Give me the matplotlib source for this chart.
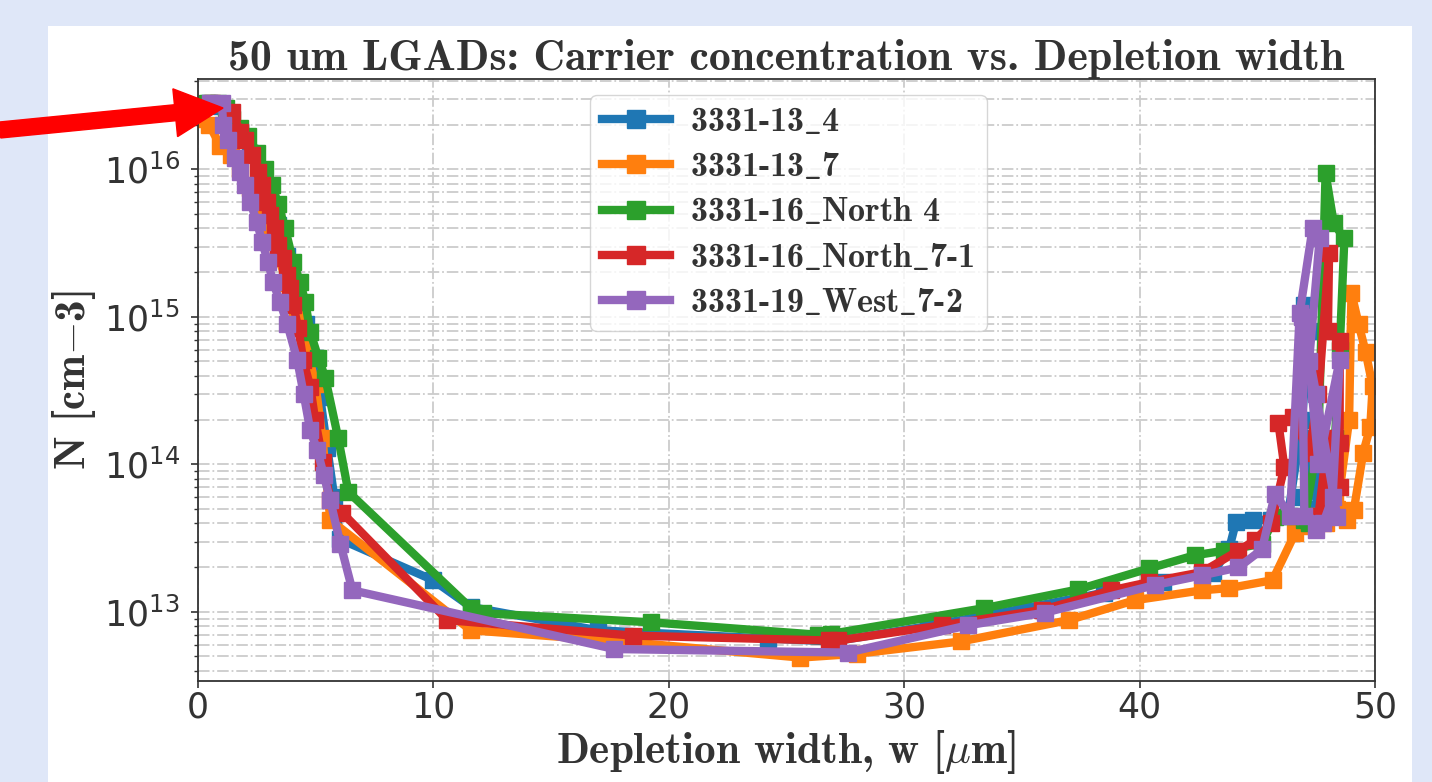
import os
import matplotlib
matplotlib.use("Agg")
import matplotlib.pyplot as plt
from matplotlib import font_manager
from matplotlib.patches import Rectangle, FancyArrow

# ---------------- data ----------------
labels = ["3331-13_4", "3331-13_7", "3331-16_North 4", "3331-16_North_7-1", "3331-19_West_7-2"]

blue_x = [0.5, 1.0, 1.4, 1.8, 2.2, 2.6, 3.0, 3.4, 3.8, 4.2, 4.6, 5.0, 5.2, 5.5, 5.8, 6.06,
          10.0, 11.6, 17.0, 24.2, 27.0, 31.0, 35.0, 38.5, 41.0, 43.1, 43.8, 44.1, 44.8, 45.6,
          46.3, 46.8, 47.0, 47.2, 46.9, 47.3, 47.6, 47.1, 46.9]
blue_n = [2.8e16, 2.7e16, 2.3e16, 1.8e16, 1.3e16, 9.5e15, 6.5e15, 4.2e15, 2.6e15, 1.6e15, 9e14,
          5.3e14, 2.85e14, 1.3e14, 6e13, 3.1e13, 1.64e13, 1.08e13, 7.5e12, 6.6e12, 6.3e12, 8.0e12,
          1.05e13, 1.35e13, 1.6e13, 1.83e13, 2.65e13, 4.1e13, 4.2e13, 4.2e13, 4.5e13, 1.5e14,
          1.2e15, 8e14, 2e14, 8e13, 5e13, 4.5e13, 6e13]

orange_x = [0.15, 0.5, 0.95, 1.4, 1.8, 2.2, 2.6, 3.0, 3.4, 3.8, 4.2, 4.6, 5.0, 5.3, 5.63,
            11.6, 17.5, 25.6, 28.0, 32.4, 37.0, 39.8, 42.65, 43.8, 45.65, 46.6, 47.2, 47.8,
            48.4, 48.9, 49.0, 49.3, 49.6, 49.9, 49.8, 49.5, 49.1, 48.8, 48.3, 47.9, 47.5]
orange_n = [2.2e16, 2.0e16, 1.45e16, 1.25e16, 1.0e16, 7.5e15, 5.5e15, 3.8e15, 2.6e15, 1.7e15,
            1.05e15, 6.5e14, 3.5e14, 1.5e14, 4.2e13, 7.5e12, 6.4e12, 4.9e12, 5.2e12, 6.3e12,
            8.8e12, 1.2e13, 1.4e13, 1.45e13, 1.64e13, 3.4e13, 3.8e13, 4.2e13, 5e13, 2e14,
            1.45e15, 9e14, 5.8e14, 3.4e14, 1.8e14, 1.2e14, 4.9e13, 4.2e13, 5.5e13, 4e13, 4.5e13]

green_x = [0.4, 0.86, 1.2, 1.46, 1.8, 2.14, 2.52, 2.86, 3.16, 3.42, 3.71, 4.06, 4.35, 4.57,
           4.78, 5.12, 5.42, 5.97, 6.4, 11.6, 12.1, 19.25, 26.35, 26.9, 33.4, 37.4, 40.4,
           42.35, 43.6, 45.2, 45.75, 46.4, 47.0, 47.6, 47.9, 48.25, 48.7, 48.5, 48.3, 48.0,
           47.8, 47.2]
green_n = [2.8e16, 2.8e16, 2.6e16, 2.2e16, 1.9e16, 1.68e16, 1.3e16, 1.0e16, 7.8e15, 5.8e15,
           4.0e15, 2.35e15, 1.72e15, 1.26e15, 7.9e14, 5.3e14, 3.85e14, 1.5e14, 6.5e13,
           1.06e13, 9.8e12, 8.5e12, 7.0e12, 7.1e12, 1.06e13, 1.42e13, 1.97e13, 2.42e13,
           2.6e13, 2.9e13, 4.4e13, 4.5e13, 4.2e13, 1.5e14, 9.4e15, 4.3e15, 3.4e15, 6e14,
           1.5e14, 5e13, 4.5e13, 4e13]

red_x = [0.6, 1.47, 1.8, 2.0, 2.31, 2.57, 2.74, 2.95, 3.08, 3.29, 3.42, 3.63, 3.8, 3.93,
         4.06, 4.27, 4.48, 4.78, 4.99, 5.33, 5.63, 6.14, 10.6, 18.5, 26.8, 27.2, 31.6, 35.85,
         38.8, 40.4, 42.65, 44.2, 44.9, 45.6, 46.15, 45.9, 46.5, 47.2, 47.6, 48.05, 48.0,
         48.5, 48.5, 48.5, 47.6, 48.0, 47.8]
red_n = [2.8e16, 2.45e16, 1.8e16, 1.57e16, 1.25e16, 9.6e15, 7.8e15, 6.0e15, 4.9e15, 4.0e15,
         3.06e15, 2.5e15, 1.92e15, 1.57e15, 1.2e15, 8.4e14, 5.1e14, 3.35e14, 2.0e14, 1.03e14,
         5.7e13, 4.7e13, 8.8e12, 6.9e12, 6.4e12, 6.4e12, 8.1e12, 1.03e13, 1.4e13, 1.59e13,
         1.86e13, 2.6e13, 3.06e13, 4e13, 9.6e13, 1.9e14, 2.1e14, 1.2e14, 3e14, 2.7e15, 8e14,
         6.9e14, 1.4e14, 7e13, 4.5e13, 1.5e14, 4.2e13]

purple_x = [0.52, 1.03, 1.08, 1.29, 1.59, 1.8, 2.01, 2.23, 2.52, 2.74, 2.99, 3.2, 3.5, 3.8,
            4.23, 4.5, 4.78, 5.08, 5.35, 5.63, 6.06, 6.57, 17.7, 27.6, 32.7, 36.0, 40.65,
            42.65, 44.2, 45.2, 45.75, 46.4, 46.8, 47.35, 47.65, 47.2, 47.6, 48.5, 48.2, 47.8,
            47.0, 46.9, 47.5, 48.4, 47.5]
purple_n = [2.8e16, 2.8e16, 2.0e16, 1.57e16, 1.2e16, 9.6e15, 7.8e15, 6.0e15, 4.4e15, 3.2e15,
            2.35e15, 1.72e15, 1.26e15, 9.0e14, 5.1e14, 3.0e14, 1.7e14, 1.25e14, 8.5e13,
            5.7e13, 2.9e13, 1.4e13, 5.6e12, 5.3e12, 8.1e12, 9.9e12, 1.52e13, 1.77e13, 2.0e13,
            2.65e13, 6.3e13, 4.5e13, 1.06e15, 4.0e15, 3.4e15, 5e14, 1e14, 5.1e14, 6e13, 4e13,
            4.5e13, 1e15, 3e14, 4.4e13, 3.6e13]

colors = ["#1f77b4", "#ff7f0e", "#2ca02c", "#d62728", "#9467bd"]
title = "50 um LGADs: Carrier concentration vs. Depletion width"
xlabel = r"Depletion width, w [$\mu$m]"
ylabel = r"N [cm$-$3]"

# ---------------- fonts ----------------
plt.rcParams["mathtext.fontset"] = "cm"
plt.rcParams["axes.unicode_minus"] = True
cmb_path = os.path.join(matplotlib.get_data_path(), "fonts", "ttf", "cmb10.ttf")
font_manager.fontManager.addfont(cmb_path)
serif_bold_family = ["cmb10", "DejaVu Serif"]


def tex_label(s):
    # cmb10 has no underscore glyph at '_', draw it through mathtext
    return s.replace("_", r"$\_$")


W, H = 1432, 782
fig = plt.figure(figsize=(W / 100, H / 100), dpi=100, facecolor="#dfe7f8")

# white slide panel
fig.patches.append(Rectangle((48 / W, 0), (1412 - 48) / W, 1 - 26 / H,
                             transform=fig.transFigure, facecolor="white",
                             edgecolor="none", zorder=-10))

ax = fig.add_axes([197.7 / W, 1 - 681 / H, (1375 - 197.7) / W, (681 - 79) / H])
ax.set_facecolor("white")

series = [(blue_x, blue_n), (orange_x, orange_n), (green_x, green_n),
          (red_x, red_n), (purple_x, purple_n)]
for (xs, ns), c, lab in zip(series, colors, labels):
    ax.plot(xs, ns, marker="s", color=c, lw=6, ms=11, label=tex_label(lab))

ax.set_yscale("log")
ax.set_xlim(0, 50)
ax.set_ylim(3.4e12, 4.1e16)
ax.set_xticks([0, 10, 20, 30, 40, 50])

ax.grid(True, which="major", axis="both", color="#cccccc", lw=1.3, ls="-.")
ax.grid(True, which="minor", axis="y", color="#cccccc", lw=1.3, ls="-.")
ax.set_axisbelow(True)

for sp in ax.spines.values():
    sp.set_color("#333333")
    sp.set_linewidth(1.3)

ax.tick_params(axis="both", which="major", labelsize=25, labelcolor="#333333",
               color="#333333", length=5, width=1.2, pad=8)
ax.tick_params(axis="x", which="major", pad=2)
ax.tick_params(axis="y", which="minor", color="#333333", length=3, width=1.0)

ax.set_title(title, fontsize=31.5, family=serif_bold_family, color="#333333", pad=4)
ax.set_xlabel(xlabel, fontsize=31, family=serif_bold_family, color="#333333", labelpad=2)
ax.set_ylabel(ylabel, fontsize=31, family=serif_bold_family, color="#333333", labelpad=4)

leg = ax.legend(loc="upper left", bbox_to_anchor=(590 / W, 1 - 95 / H),
                bbox_transform=fig.transFigure, borderaxespad=0,
                prop={"family": serif_bold_family, "size": 24.5},
                handlelength=2.0, handletextpad=0.6, labelspacing=0.42,
                borderpad=0.35, framealpha=0.8, edgecolor="#cccccc", fancybox=True,
                labelcolor="#333333", markerscale=1.2)

# red arrow
fig.patches.append(FancyArrow(0.0, (H - 130) / 100, 2.23, 0.22, width=0.16,
                              head_width=0.48, head_length=0.48,
                              length_includes_head=True, color="#ff0000",
                              transform=fig.dpi_scale_trans, zorder=20))

fig.savefig("out.png", dpi=100, facecolor=fig.get_facecolor())
